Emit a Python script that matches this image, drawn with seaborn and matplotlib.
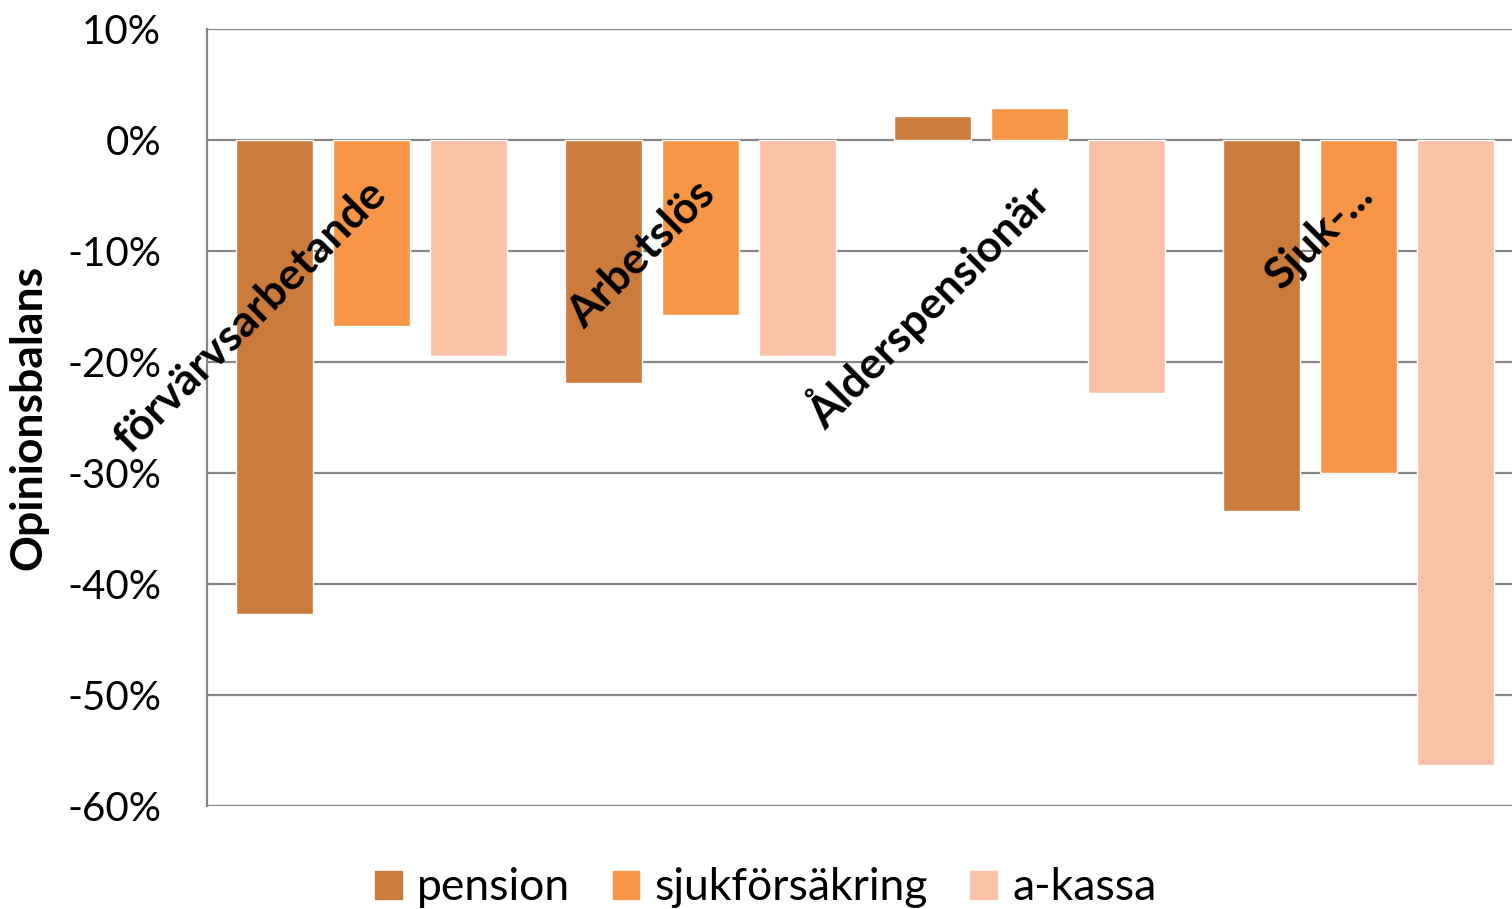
import pandas as pd
import numpy as np
import matplotlib
matplotlib.use("Agg")
import matplotlib.pyplot as plt
import seaborn as sns
from matplotlib.ticker import FuncFormatter

# Data (opinion balance, %)
grupper = ["förvärvsarbetande", "Arbetslös", "Ålderspensionär", "Sjuk-..."]
serier = ["pension", "sjukförsäkring", "a-kassa"]
pension = [-42.7, -21.9, 2.2, -33.4]
sjukforsakring = [-16.8, -15.8, 2.9, -30.0]
a_kassa = [-19.5, -19.5, -22.8, -56.3]
farger = ["#CB7B3B", "#F79646", "#F9C2A7"]

df = pd.DataFrame({
    "grupp": grupper * 3,
    "serie": [serier[0]] * 4 + [serier[1]] * 4 + [serier[2]] * 4,
    "varde": pension + sjukforsakring + a_kassa,
})

sns.set_style("white")
plt.rcParams["font.family"] = ["Lato", "DejaVu Sans"]
plt.rcParams["text.color"] = "black"
plt.rcParams["axes.labelcolor"] = "black"
plt.rcParams["ytick.color"] = "black"

fig = plt.figure(figsize=(15.12, 9.09), dpi=100)
ax = fig.add_axes([207 / 1512, 1 - 806 / 909, 1316 / 1512, 777 / 909])

sns.barplot(data=df, x="grupp", y="varde", hue="serie", order=grupper,
            hue_order=serier, palette=farger, saturation=1, width=0.885, gap=0.206,
            errorbar=None, ax=ax, zorder=3)

ax.set_xlim(-0.5, 3.5)
ax.set_ylim(-60, 10)
ax.set_yticks(np.arange(-60, 11, 10))
ax.yaxis.set_major_formatter(FuncFormatter(lambda v, p: f"{v:.0f}%"))
ax.tick_params(axis="y", length=0, pad=33, labelsize=29, labelcolor="black")
ax.set_xticks([])
ax.set_xlabel("")

ax.grid(axis="y", color="#868686", linewidth=1.6, zorder=0)
ax.set_axisbelow(True)
for side in ["top", "right", "bottom"]:
    ax.spines[side].set_visible(False)
ax.spines["left"].set_color("#868686")
ax.spines["left"].set_linewidth(1.6)

ax.set_ylabel("Opinionsbalans", fontsize=32, fontweight="bold", color="black")
ax.yaxis.set_label_coords(-0.1208, 0.5)

# category labels sit rotated just under the zero line
for i, namn in enumerate(grupper):
    ax.text(i - 0.02, -3.0, namn, rotation=45, rotation_mode="anchor",
            ha="right", va="top", fontsize=32, fontweight="bold", color="black", zorder=5)

ax.legend_.remove()
handles = [plt.Rectangle((0, 0), 1, 1, color=c) for c in farger]
fig.legend(handles, serier, loc="center", bbox_to_anchor=(766 / 1512, 1 - 888 / 909),
           ncol=3, frameon=False, fontsize=32, handlelength=0.6, handleheight=0.6,
           handletextpad=0.35, columnspacing=0.95, labelcolor="black")

fig.savefig("out.png", dpi=100)
